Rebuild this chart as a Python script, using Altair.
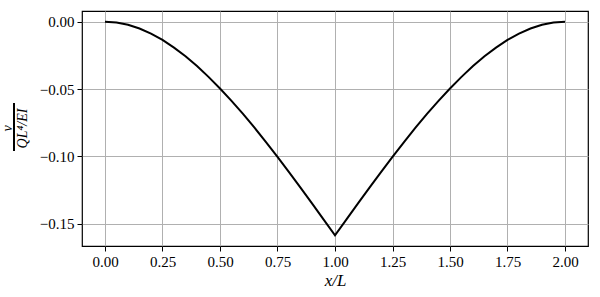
import altair as alt
import pandas as pd

x_vals = [0.00, 0.05, 0.10, 0.15, 0.20, 0.25, 0.30, 0.35, 0.40, 0.45, 0.50,
          0.55, 0.60, 0.65, 0.70, 0.75, 0.80, 0.85, 0.90, 0.95, 1.00,
          1.05, 1.10, 1.15, 1.20, 1.25, 1.30, 1.35, 1.40, 1.45, 1.50,
          1.55, 1.60, 1.65, 1.70, 1.75, 1.80, 1.85, 1.90, 1.95, 2.00]
v_vals = [0.0, -0.0006, -0.0023, -0.0051, -0.0089, -0.0136, -0.0193, -0.0257, -0.0330, -0.0410, -0.0496,
          -0.0588, -0.0685, -0.0787, -0.0894, -0.1004, -0.1117, -0.1232, -0.1349, -0.1467, -0.1586,
          -0.1467, -0.1349, -0.1232, -0.1117, -0.1004, -0.0894, -0.0787, -0.0685, -0.0588, -0.0496,
          -0.0410, -0.0330, -0.0257, -0.0193, -0.0136, -0.0089, -0.0051, -0.0023, -0.0006, 0.0]
x_ticks = [0.0, 0.25, 0.5, 0.75, 1.0, 1.25, 1.5, 1.75, 2.0]
y_ticks = [-0.15, -0.10, -0.05, 0.0]

df = pd.DataFrame({"x": x_vals, "v": v_vals})
FONT = "Liberation Serif"

line = alt.Chart(df).mark_line(color="black", strokeWidth=2).encode(
    x=alt.X("x:Q",
            scale=alt.Scale(domain=[-0.1, 2.1], nice=False, zero=False),
            axis=alt.Axis(values=x_ticks, format=".2f", title="x/L",
                          titleFont=FONT, titleFontStyle="italic", titleFontWeight="normal",
                          titleFontSize=17, titlePadding=3)),
    y=alt.Y("v:Q",
            scale=alt.Scale(domain=[-0.1665, 0.0079], nice=False, zero=False),
            axis=alt.Axis(values=y_ticks, format=".2f", title=["v", "QL⁴/EI"],
                          titleFont=FONT, titleFontStyle="italic", titleFontWeight="normal",
                          titleFontSize=14, titleAngle=-90, titleAlign="center",
                          titleBaseline="middle", titleX=-75, titleY=117, titleLineHeight=15)),
)

bar = alt.Chart(df).mark_rule(color="black", strokeWidth=1).encode(
    x=alt.value(-68), y=alt.value(92), y2=alt.value(140)
)

chart = (line + bar).properties(
    width=506, height=235,
    padding={"left": 82, "top": 11, "right": 12, "bottom": 51},
    autosize=alt.AutoSizeParams(type="none"),
    background="white",
).configure_view(stroke="black", strokeWidth=1.2).configure_axis(
    grid=True, gridColor="#b0b0b0", gridWidth=1, gridOpacity=1,
    domain=False, ticks=True, tickColor="black", tickSize=5, tickWidth=1,
    labelFont=FONT, labelFontSize=15, labelColor="black", labelPadding=3,
    titleColor="black",
)

chart.save("out.html", embed_options={"renderer": "svg", "actions": False})
